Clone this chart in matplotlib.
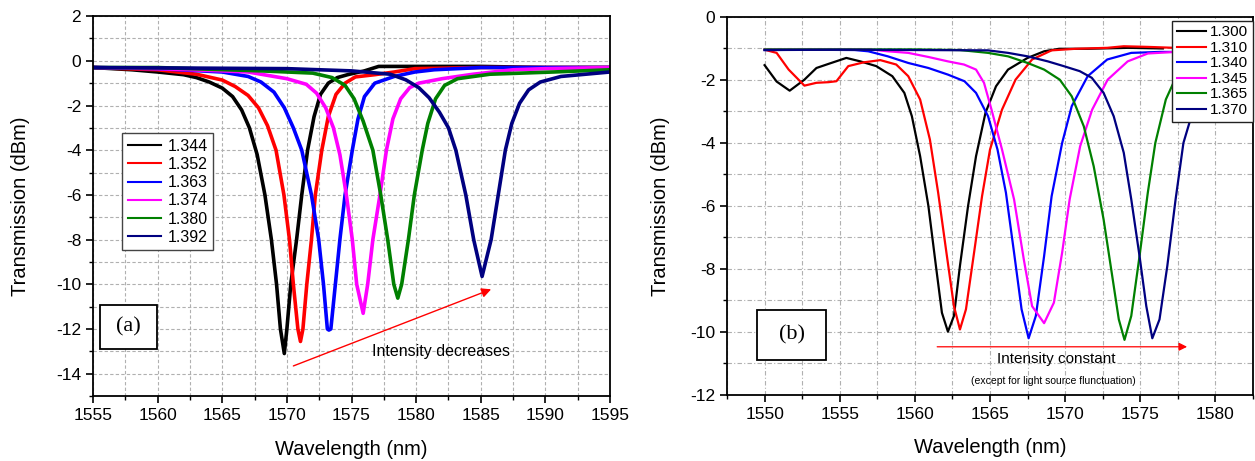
import matplotlib
matplotlib.use("Agg")
import matplotlib.pyplot as plt
from matplotlib.ticker import MultipleLocator
from matplotlib.patches import Rectangle

plt.rcParams['font.family'] = ['Liberation Sans', 'DejaVu Sans']
plt.rcParams['axes.unicode_minus'] = False

# ---------------- Panel (a) data ----------------
labels_a = ["1.344", "1.352", "1.363", "1.374", "1.380", "1.392"]
colors_a = ["#000000", "#ff0000", "#0000ff", "#ff00ff", "#008000", "#000080"]

wl_a_1344 = [1555, 1558, 1560, 1562, 1563, 1564, 1565, 1565.8, 1566.5, 1567.1, 1567.7, 1568.3, 1568.8, 1569.2,
             1569.5, 1569.8, 1570.0, 1570.3, 1570.75, 1571.15, 1571.6, 1572.1, 1572.6, 1573.2, 1573.9, 1574.7,
             1576, 1577.1, 1580, 1585, 1590, 1595]
tr_a_1344 = [-0.3, -0.4, -0.5, -0.62, -0.75, -0.95, -1.22, -1.6, -2.2, -3.0, -4.2, -6.0, -8.0, -10.0,
             -12.0, -13.1, -12.0, -10.0, -8.0, -6.0, -4.0, -2.5, -1.5, -1.0, -0.75, -0.62,
             -0.45, -0.25, -0.25, -0.25, -0.3, -0.3]

wl_a_1352 = [1555, 1560, 1563, 1565, 1566, 1567, 1567.8, 1568.5, 1569.16, 1569.77, 1570.2, 1570.5, 1570.85,
             1571.05, 1571.24, 1571.54, 1571.9, 1572.2, 1572.7, 1573.2, 1573.8, 1574.5, 1575.3, 1576.8,
             1578.3, 1579.9, 1585, 1590, 1595]
tr_a_1352 = [-0.3, -0.4, -0.6, -0.86, -1.15, -1.55, -2.1, -2.9, -4.0, -6.0, -8.0, -10.0, -12.0,
             -12.56, -12.0, -10.0, -8.0, -6.0, -4.0, -2.5, -1.5, -1.0, -0.72, -0.62,
             -0.5, -0.35, -0.3, -0.3, -0.3]

wl_a_1363 = [1555, 1560, 1565, 1567, 1568, 1569, 1569.8, 1570.5, 1571.15, 1571.9, 1572.46, 1572.83, 1573.13,
             1573.25, 1573.4, 1573.75, 1574.1, 1574.5, 1575.06, 1575.5, 1576.0, 1576.8, 1578.3, 1579.9,
             1581.4, 1585, 1590, 1595]
tr_a_1363 = [-0.3, -0.35, -0.5, -0.7, -0.95, -1.4, -2.1, -3.0, -4.0, -6.0, -8.0, -10.0, -12.0,
             -12.05, -12.0, -10.0, -8.0, -6.0, -4.0, -2.6, -1.6, -1.0, -0.7, -0.5,
             -0.4, -0.3, -0.3, -0.3]

wl_a_1374 = [1555, 1560, 1565, 1567, 1570, 1571.5, 1572.3, 1573, 1573.6, 1574.1, 1574.6, 1575.06, 1575.4,
             1575.9, 1576.25, 1576.65, 1577.2, 1577.7, 1578.2, 1578.8, 1579.5, 1580.2, 1582, 1584.4, 1587.5,
             1590, 1595]
tr_a_1374 = [-0.3, -0.35, -0.45, -0.5, -0.8, -1.05, -1.45, -2.1, -3.0, -4.2, -6.0, -8.0, -10.0,
             -11.3, -10.0, -8.0, -6.0, -4.0, -2.6, -1.7, -1.2, -1.0, -0.8, -0.6, -0.4,
             -0.35, -0.3]

wl_a_1380 = [1555, 1560, 1568, 1572, 1573.5, 1574.5, 1575.2, 1575.9, 1576.65, 1577.26, 1577.8, 1578.27,
             1578.58, 1578.88, 1579.4, 1579.86, 1580.47, 1580.9, 1581.5, 1582.2, 1583.2, 1585.7, 1590.6, 1595]
tr_a_1380 = [-0.3, -0.3, -0.45, -0.55, -0.75, -1.1, -1.7, -2.7, -4.0, -6.0, -8.0, -10.0,
             -10.62, -10.0, -8.0, -6.0, -4.0, -2.8, -1.7, -1.1, -0.8, -0.6, -0.5, -0.4]

wl_a_1392 = [1555, 1570, 1575, 1578, 1579.2, 1580.2, 1581.0, 1581.8, 1582.5, 1583.07, 1583.84, 1584.45,
             1585.1, 1585.8, 1586.35, 1586.9, 1587.4, 1588.0, 1588.7, 1589.6, 1591.2, 1595]
tr_a_1392 = [-0.3, -0.35, -0.45, -0.6, -0.85, -1.2, -1.65, -2.3, -3.0, -4.0, -6.0, -8.0,
             -9.65, -8.0, -6.0, -4.0, -2.8, -1.9, -1.3, -0.95, -0.7, -0.5]

# ---------------- Panel (b) data ----------------
labels_b = ["1.300", "1.310", "1.340", "1.345", "1.365", "1.370"]
colors_b = ["#000000", "#ff0000", "#0000ff", "#ff00ff", "#008000", "#000080"]

wl_b_1300 = [1550, 1550.8, 1551.67, 1552.65, 1553.45, 1554.25, 1555.44, 1556.37, 1557.43, 1558.5, 1559.3,
             1559.8, 1560.35, 1560.9, 1561.4, 1561.8, 1562.2, 1562.6, 1563.0, 1563.54, 1564.07, 1564.7,
             1565.4, 1566.2, 1567.5, 1568.6, 1569.6, 1571.5, 1574.2, 1576.5]
tr_b_1300 = [-1.53, -2.05, -2.34, -1.99, -1.62, -1.49, -1.3, -1.41, -1.56, -1.88, -2.41,
             -3.15, -4.42, -6.0, -7.9, -9.39, -9.99, -9.49, -7.9, -6.0, -4.42, -3.04,
             -2.2, -1.67, -1.3, -1.09, -1.01, -1.01, -0.98, -1.0]

wl_b_1310 = [1550, 1550.8, 1551.6, 1552.65, 1553.45, 1554.25, 1554.78, 1555.57, 1556.6, 1557.7, 1558.76,
             1559.56, 1560.35, 1561.0, 1561.55, 1562.1, 1562.6, 1563.0, 1563.4, 1563.94, 1564.47, 1565.0,
             1565.8, 1566.7, 1567.8, 1569.1, 1570.7, 1572.8, 1573.9, 1575.5, 1577.3, 1580, 1582.5]
tr_b_1310 = [-1.04, -1.14, -1.67, -2.18, -2.09, -2.07, -2.04, -1.56, -1.44, -1.37, -1.51,
             -1.88, -2.62, -3.89, -5.58, -7.48, -9.18, -9.92, -9.28, -7.48, -5.69, -4.21,
             -2.94, -1.99, -1.35, -1.06, -1.01, -0.98, -0.93, -0.95, -0.98, -0.98, -0.98]

wl_b_1340 = [1550, 1553, 1556, 1556.9, 1558.2, 1559.56, 1560.9, 1562.2, 1563.3, 1564.07, 1564.87, 1565.5,
             1566.06, 1566.6, 1567.1, 1567.57, 1568.05, 1568.6, 1569.1, 1569.8, 1570.44, 1571.5, 1572.8,
             1574.4, 1576.3, 1577.6, 1580, 1582.5]
tr_b_1340 = [-1.05, -1.04, -1.05, -1.09, -1.25, -1.46, -1.62, -1.83, -2.04, -2.41, -3.15, -4.21,
             -5.58, -7.48, -9.28, -10.2, -9.49, -7.59, -5.69, -4.0, -2.83, -1.88, -1.35,
             -1.14, -1.11, -1.11, -1.11, -1.11]

wl_b_1345 = [1550, 1553, 1557, 1558.2, 1559.56, 1560.9, 1562.2, 1563.27, 1564.07, 1564.6, 1565.1, 1565.8,
             1566.6, 1567.25, 1567.8, 1568.6, 1569.25, 1569.8, 1570.3, 1571.0, 1571.8, 1572.83, 1574.16,
             1575.5, 1577.3, 1580, 1582.5]
tr_b_1345 = [-1.03, -1.03, -1.03, -1.09, -1.14, -1.27, -1.41, -1.51, -1.67, -2.09, -2.94, -4.21,
             -5.79, -7.7, -9.18, -9.72, -9.07, -7.48, -5.79, -4.1, -2.94, -1.99, -1.41,
             -1.16, -1.11, -1.11, -1.11]

wl_b_1365 = [1550, 1555, 1560, 1563, 1564.87, 1566.2, 1567.5, 1568.6, 1569.64, 1570.44, 1571.24, 1571.9,
             1572.56, 1573.1, 1573.57, 1573.95, 1574.4, 1574.95, 1575.5, 1576.0, 1576.7, 1577.3, 1578.2]
tr_b_1365 = [-1.03, -1.03, -1.03, -1.05, -1.14, -1.25, -1.46, -1.67, -1.99, -2.52, -3.47, -4.74,
             -6.43, -8.12, -9.6, -10.25, -9.49, -7.59, -5.58, -4.0, -2.62, -1.99, -1.5]

wl_b_1370 = [1550, 1555, 1560, 1564.87, 1566.2, 1567.5, 1568.85, 1569.9, 1570.97, 1571.77, 1572.56, 1573.23,
             1573.9, 1574.4, 1574.95, 1575.4, 1575.8, 1576.28, 1576.8, 1577.35, 1577.87, 1578.4, 1579.2]
tr_b_1370 = [-1.05, -1.04, -1.05, -1.06, -1.14, -1.25, -1.41, -1.56, -1.72, -1.93, -2.41, -3.15,
             -4.31, -5.79, -7.59, -9.18, -10.2, -9.6, -7.9, -5.79, -4.0, -3.15, -2.2]

series_a = [(wl_a_1344, tr_a_1344), (wl_a_1352, tr_a_1352), (wl_a_1363, tr_a_1363),
            (wl_a_1374, tr_a_1374), (wl_a_1380, tr_a_1380), (wl_a_1392, tr_a_1392)]
series_b = [(wl_b_1300, tr_b_1300), (wl_b_1310, tr_b_1310), (wl_b_1340, tr_b_1340),
            (wl_b_1345, tr_b_1345), (wl_b_1365, tr_b_1365), (wl_b_1370, tr_b_1370)]

fig = plt.figure(figsize=(12.55, 4.61), dpi=100)
axA = fig.add_axes([0.0741, 0.141, 0.412, 0.824])
axB = fig.add_axes([0.5793, 0.1432, 0.4191, 0.820])


def style(ax, xlim, ylim, xmaj, xmin, ymaj, ymin, grid_ls):
    ax.set_xlim(*xlim)
    ax.set_ylim(*ylim)
    ax.xaxis.set_major_locator(MultipleLocator(xmaj))
    ax.xaxis.set_minor_locator(MultipleLocator(xmin))
    ax.yaxis.set_major_locator(MultipleLocator(ymaj))
    ax.yaxis.set_minor_locator(MultipleLocator(ymin))
    ax.grid(which='both', ls=grid_ls, color='#b0b0b0', lw=0.8)
    ax.set_axisbelow(True)
    ax.tick_params(which='major', direction='out', length=5, width=1.2, labelsize=12.5, pad=3.5)
    ax.tick_params(which='minor', direction='out', length=3, width=1.0)
    for s in ax.spines.values():
        s.set_linewidth(1.3)
    ax.set_xlabel("Wavelength (nm)", fontsize=14.5, va='center')
    ax.set_ylabel("Transmission (dBm)", fontsize=14.5)


# Panel (a)
for (wl, tr), c, lab in zip(series_a, colors_a, labels_a):
    axA.plot(wl, tr, color=c, lw=2.6, label=lab, solid_joinstyle='round')
style(axA, (1555, 1595), (-15, 2), 5, 2.5, 2, 1, (0, (3, 2)))
axA.xaxis.set_label_coords(0.5, -0.14)
axA.yaxis.set_label_coords(-0.122, 0.5)
legA = axA.legend(loc='upper left', bbox_to_anchor=(0.056, 0.692), borderaxespad=0, fontsize=11.5,
                  handlelength=2.1, handletextpad=0.4, labelspacing=0.2, borderpad=0.35,
                  fancybox=False, framealpha=1, edgecolor='#444444')
for l in legA.get_lines():
    l.set_linewidth(1.5)
axA.add_patch(Rectangle((1555.54, -12.9), 4.41, 1.97, fill=True, facecolor='white',
                        edgecolor='black', lw=1.3, zorder=5))
axA.text(1557.75, -11.9, "(a)", family=['Liberation Serif', 'DejaVu Serif'], fontsize=16,
         ha='center', va='center', zorder=6)
axA.annotate("", xy=(1586.0, -10.18), xytext=(1570.3, -13.7),
             arrowprops=dict(arrowstyle='-|>', color='#ff0000', lw=1.0, mutation_scale=14))
axA.text(1581.9, -13.0, "Intensity decreases", fontsize=11.5, ha='center', va='center')

# Panel (b)
for (wl, tr), c, lab in zip(series_b, colors_b, labels_b):
    axB.plot(wl, tr, color=c, lw=1.6, label=lab)
style(axB, (1547.5, 1582.5), (-12, 0), 5, 2.5, 2, 1, (0, (4, 2, 1, 2)))
axB.xaxis.set_label_coords(0.5, -0.14)
axB.yaxis.set_label_coords(-0.108, 0.5)
legB = axB.legend(loc='upper right', bbox_to_anchor=(1.0, 0.99), borderaxespad=0, fontsize=11,
                  handlelength=1.9, handletextpad=0.3, labelspacing=0.1, borderpad=0.3,
                  fancybox=False, framealpha=1, edgecolor='#222222')
for l in legB.get_lines():
    l.set_linewidth(1.5)
axB.add_patch(Rectangle((1549.5, -10.9), 4.56, 1.59, fill=True, facecolor='white',
                        edgecolor='black', lw=1.3, zorder=5))
axB.text(1551.8, -10.1, "(b)", family=['Liberation Serif', 'DejaVu Serif'], fontsize=16,
         ha='center', va='center', zorder=6)
axB.annotate("", xy=(1578.3, -10.47), xytext=(1561.3, -10.47),
             arrowprops=dict(arrowstyle='-|>', color='#ff0000', lw=0.9, mutation_scale=12))
axB.text(1569.4, -10.87, "Intensity constant", fontsize=11, ha='center', va='center')
axB.text(1569.2, -11.55, "(except for light source flunctuation)", fontsize=7.5, ha='center', va='center')

fig.savefig("out.png", dpi=100)
